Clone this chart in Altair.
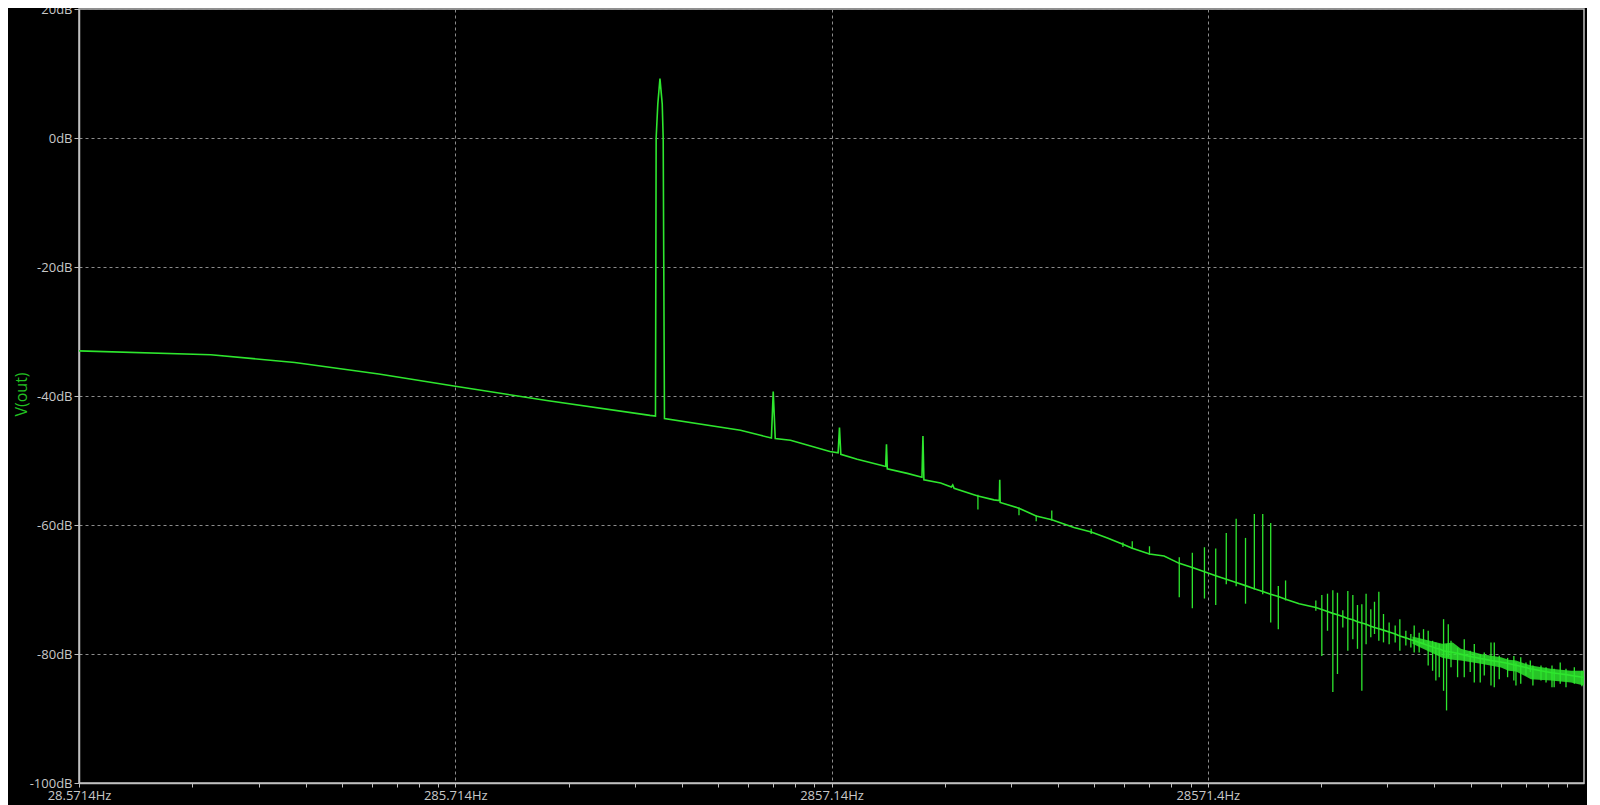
import json
import altair as alt
import pandas as pd

# ---- data (frequency in Hz, level in dB) ----
# continuous trace: noise floor, 1 kHz fundamental and the low harmonics
TRACE_FREQ = [
    28.5714, 64, 107, 179, 286, 500, 941, 973, 977, 987, 1000, 1014, 1020, 1028,
    1637, 1850, 1978, 2000, 2025, 2223, 2829, 2975, 3000, 3025, 3344, 3937,
    3980, 4000, 4020, 4543, 4970, 5000, 5030, 5571, 5950, 6000, 6050, 6830,
    7000, 7721, 7980, 8000, 8020, 9000, 10000, 11000, 12600, 14000, 15460,
    17000, 18000, 20000, 21870, 24000, 26000, 28000, 30000, 32000, 34000,
    36000, 38000, 40000, 42000, 44000, 46000, 50000, 55360, 57430, 59460,
    61430, 63200, 65300, 67330, 69430, 71430, 73360, 75300, 77500, 79270,
    81400, 83760, 86700, 89970, 92570, 96040, 99030, 101070, 104200, 107000,
    110100, 113100, 115400, 117800, 120970, 123200, 126600, 131800, 137900,
    142400, 146000, 151400, 155200, 161700, 165700, 170100, 177200, 183500,
    188400, 193500, 200300, 205700, 210800, 219600, 226500, 234900, 245700,
    255900, 269300, 283400, 285714,
]
TRACE_DB = [
    -33.0, -33.6, -34.8, -36.6, -38.5, -40.7, -43.0, -43.1, 0.0, 5.3, 9.2, 5.3, 0.0, -43.5,
    -45.3, -46.1, -46.5, -39.3, -46.6, -46.85, -48.6, -48.8, -44.9, -49.05, -49.8, -50.85,
    -50.9, -47.5, -51.3, -52.0, -52.6, -46.2, -53.0, -53.5, -54.1, -53.8, -54.3, -55.3,
    -55.5, -56.1, -56.2, -53.0, -56.5, -57.4, -58.6, -59.2, -60.4, -61.1, -62.0,
    -63.0, -63.6, -64.5, -64.8, -65.95, -66.6, -67.25, -67.85, -68.4, -68.9,
    -69.4, -69.9, -70.3, -70.75, -71.1, -71.5, -72.2, -72.8, -73.1, -73.4,
    -73.7, -73.9, -74.2, -74.5, -74.7, -75.0, -75.2, -75.4, -75.7, -75.9,
    -76.1, -76.3, -76.6, -76.9, -77.2, -77.5, -77.8, -77.9, -78.2, -78.4,
    -78.7, -78.9, -79.1, -79.2, -79.5, -79.6, -79.7, -79.9, -80.2,
    -80.4, -80.5, -80.7, -80.8, -81.0, -81.1, -81.2, -81.4, -81.6,
    -81.75, -81.9, -82.1, -82.3, -82.4, -82.6, -82.75, -82.9, -83.05,
    -83.2, -83.4, -83.6, -83.7,
]

# thick noisy band of the trace at the high-frequency end (upper / lower edge)
BAND_FREQ = [100000, 120000, 128000, 134500, 152000, 171900, 180000, 188400,
             206500, 233400, 263900, 285714]
BAND_UPPER = [-77.3, -78.4, -78.2, -79.2, -80.0, -80.5, -80.9, -81.0,
              -81.8, -82.3, -82.6, -82.6]
BAND_LOWER = [-78.4, -80.6, -80.9, -81.0, -81.5, -82.1, -82.6, -82.7,
              -83.9, -84.1, -84.4, -84.9]

# narrow spurs (vertical strokes): frequency, top and bottom level
SPIKE_FREQ = [
    7000, 9000, 10000, 11000, 14000, 17000, 18000, 20000, 24000, 26000, 28000,
    30000, 32000, 34000, 36000, 38000, 40000, 42000, 44000, 46000, 55360, 57430,
    59460, 61430, 63200, 65300, 67330, 69430, 71430, 73360, 75300, 77500, 79270,
    81400, 83760, 86700, 89970, 92570, 96040, 99030, 101070, 104200, 107000,
    110100, 113100, 115400, 117800, 120970, 123200, 124500, 126600, 131800,
    137300, 142400, 146000, 151400, 155200, 161700, 165000, 170100, 179000,
    186000, 188400, 194000, 200300, 205700, 209000, 219600, 226500, 234900,
    238000, 247000, 255900, 269300, 282000,
]
SPIKE_TOP = [
    -55.3, -57.3, -58.5, -57.75, -60.6, -62.7, -62.5, -63.3, -65.0, -64.3, -63.45,
    -63.65, -61.24, -59.03, -62.0, -58.3, -58.3, -59.7, -69.46, -68.6, -71.7, -70.85,
    -70.65, -70.13, -70.5, -73.2, -70.24, -70.85, -72.4, -72.3, -70.65, -73.06, -71.9,
    -70.34, -73.8, -75.1, -75.6, -74.6, -76.4, -76.9, -75.6, -76.7, -76.15,
    -76.4, -77.95, -78.2, -78.46, -74.6, -78.46, -75.4, -77.95, -79.0,
    -77.7, -79.5, -78.46, -80.0, -79.75, -78.2, -78.2, -80.26, -80.6,
    -80.3, -81.3, -80.5, -81.3, -81.0, -81.8, -81.8, -82.06, -81.8,
    -82.3, -81.3, -82.3, -82.06, -82.6,
]
SPIKE_BOTTOM = [
    -57.6, -58.5, -59.4, -59.3, -61.4, -63.4, -63.7, -64.6, -71.2, -72.9, -71.4,
    -72.4, -69.2, -69.5, -72.2, -70.0, -70.75, -75.1, -76.15, -71.7, -73.3, -80.3,
    -76.4, -85.9, -83.1, -75.9, -79.5, -77.7, -79.2, -85.7, -78.5, -77.4, -76.9,
    -77.95, -78.2, -78.5, -78.2, -79.5, -78.7, -79.0, -79.75, -79.75, -78.5,
    -81.8, -82.6, -84.1, -83.6, -85.7, -88.75, -80.5, -82.06, -83.6,
    -83.6, -82.8, -84.4, -84.4, -83.35, -84.9, -85.15, -83.9, -83.6,
    -84.1, -84.9, -84.6, -83.35, -82.8, -84.9, -84.1, -84.4, -85.15,
    -85.15, -84.6, -85.15, -84.6, -85.0,
]

DECADES = [28.5714, 285.714, 2857.14, 28571.4]
DECADE_LABELS = ["28.5714Hz", "285.714Hz", "2857.14Hz", "28571.4Hz"]
MULTIPLES = [1, 2, 3, 4, 5, 6, 7, 8, 9]
DB_TICKS = [20, 0, -20, -40, -60, -80, -100]
X_DOMAIN = [28.5714, 285714]
Y_DOMAIN = [-100, 20]

# ---- build tables ----
trace = pd.DataFrame({"f": TRACE_FREQ, "db": TRACE_DB})
band = pd.DataFrame({"f": BAND_FREQ, "hi": BAND_UPPER, "lo": BAND_LOWER})
spikes = pd.DataFrame({"f": SPIKE_FREQ, "top": SPIKE_TOP, "bottom": SPIKE_BOTTOM})
x_ticks = [d * m for d in DECADES for m in MULTIPLES]

GREEN = "#2ee62e"
FRAME = "#c0c0c0"
GRID = "#8c8c8c"
FONT = "Open Sans"

dec_js = json.dumps(DECADES)
lab_js = json.dumps(DECADE_LABELS)
is_decade = f"indexof({dec_js}, datum.value) >= 0"

x_axis = alt.Axis(
    values=x_ticks,
    labelExpr=f"{lab_js}[indexof({dec_js}, datum.value)] || ''",
    title=None,
    grid=True,
    gridOpacity={"condition": {"test": is_decade, "value": 1}, "value": 0},
    gridDash=[3, 3],
    gridColor=GRID,
    gridWidth=1,
    domainColor=FRAME,
    domainWidth=1.5,
    tickColor=FRAME,
    tickSize=4,
    tickWidth=1,
    labelColor="#c8c8c8",
    labelFont=FONT,
    labelFontSize=13,
    labelPadding=2,
    labelFlush=False,
    labelOverlap=False,
)
y_axis = alt.Axis(
    values=DB_TICKS,
    labelExpr="datum.value + 'dB'",
    title="V(out)",
    titleColor="#22c022",
    titleFont=FONT,
    titleFontSize=16,
    titleFontWeight="normal",
    titleAngle=270,
    titleAlign="center",
    titleBaseline="middle",
    titleX=-58,
    titleY=385,
    grid=True,
    gridDash=[3, 3],
    gridColor=GRID,
    gridWidth=1,
    domainColor=FRAME,
    domainWidth=1.5,
    tickColor=FRAME,
    tickSize=5,
    tickWidth=1,
    labelColor="#c8c8c8",
    labelFont=FONT,
    labelFontSize=13,
    labelPadding=2,
    labelOverlap=False,
)

x_scale = alt.Scale(type="log", domain=X_DOMAIN, nice=False)
y_scale = alt.Scale(domain=Y_DOMAIN, nice=False, zero=False)

line = alt.Chart(trace).mark_line(color=GREEN, strokeWidth=1.6).encode(
    x=alt.X("f:Q", scale=x_scale, axis=x_axis),
    y=alt.Y("db:Q", scale=y_scale, axis=y_axis),
)
fuzz = alt.Chart(band).mark_area(color=GREEN, opacity=0.85).encode(
    x=alt.X("f:Q", scale=x_scale, axis=x_axis),
    y=alt.Y("hi:Q", scale=y_scale, axis=y_axis),
    y2="lo:Q",
)
rules = alt.Chart(spikes).mark_rule(color=GREEN, strokeWidth=1.3).encode(
    x=alt.X("f:Q", scale=x_scale, axis=x_axis),
    y=alt.Y("top:Q", scale=y_scale, axis=y_axis),
    y2="bottom:Q",
)

chart = (
    alt.layer(fuzz, line, rules)
    .properties(
        width=1505,
        height=774,
        autosize=alt.AutoSizeParams(type="none"),
        padding={"left": 71, "top": 1, "right": 3, "bottom": 22},
    )
    .configure(background="#000000")
    .configure_view(stroke=FRAME, strokeWidth=1.5, fill="#000000")
)

chart.save("out.html", embed_options={"renderer": "svg", "actions": False})
